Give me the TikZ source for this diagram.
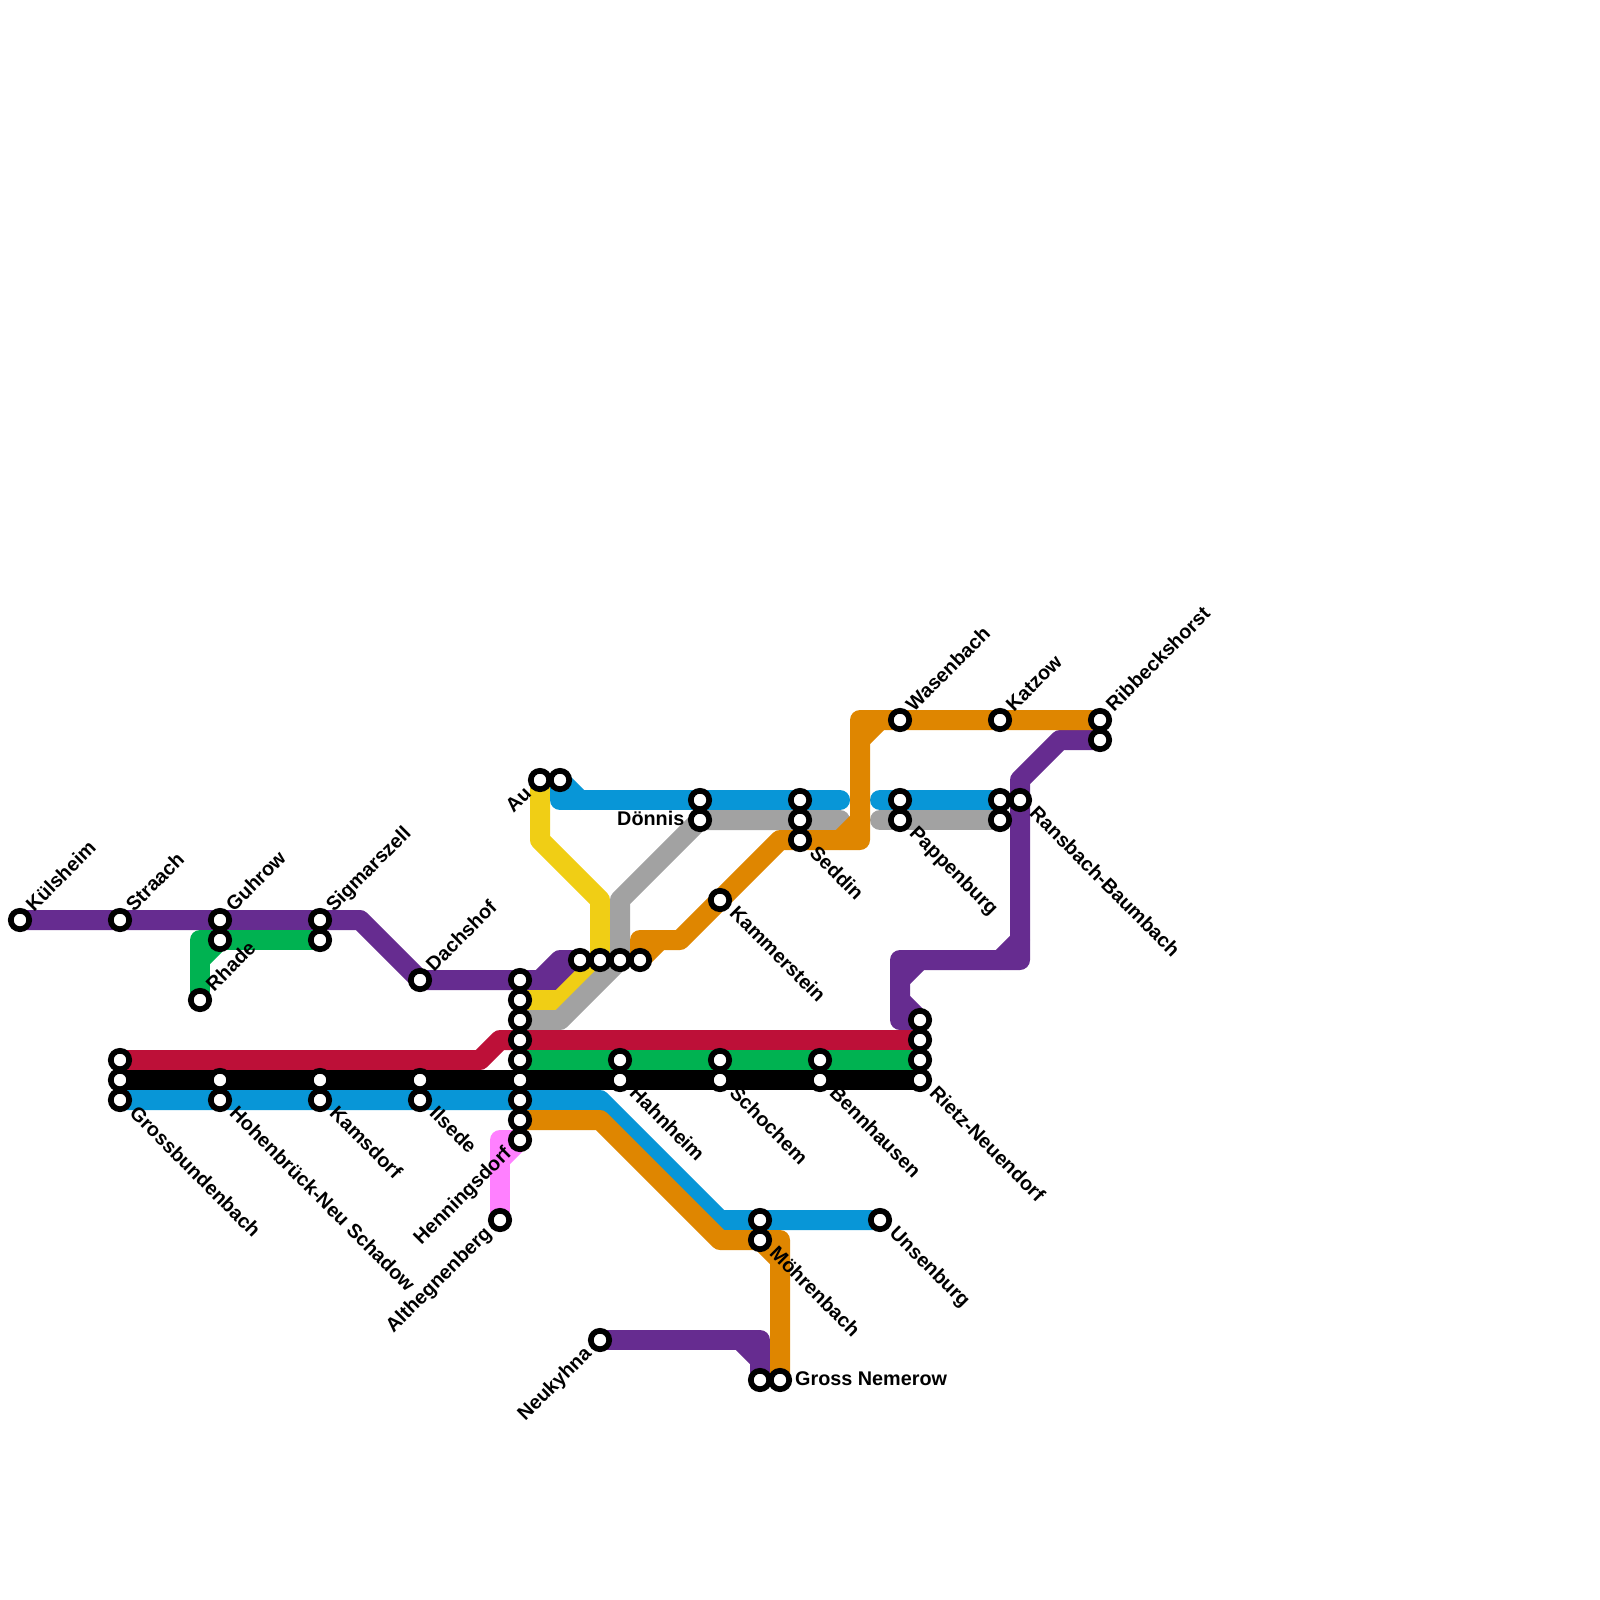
\documentclass[tikz,border=0pt]{standalone}
\usepackage{fontspec}
\setmainfont{Liberation Sans}
\usetikzlibrary{backgrounds}
\definecolor{cPurple}{HTML}{662C90}
\definecolor{cBlue}{HTML}{0896D7}
\definecolor{cOrange}{HTML}{DF8600}
\definecolor{cGrey}{HTML}{A2A2A2}
\definecolor{cYellow}{HTML}{F0CE15}
\definecolor{cRed}{HTML}{BD1038}
\definecolor{cGreen}{HTML}{00B251}
\definecolor{cPink}{HTML}{FF80FF}
\tikzset{
	stn/.style   ={circle, draw=black, fill=white, line width=5.7pt, inner sep=0pt, outer sep=0pt, minimum size=18.4pt},
	route/.style ={line width=20pt, line cap=round, line join=round},
	lblne/.style ={xshift=14pt, yshift=7.5pt, rotate=45, anchor=base west, inner sep=0pt},
	lblse/.style ={xshift=8.5pt, yshift=-14.5pt, rotate=-45, anchor=base west, inner sep=0pt},
	lblsw/.style ={xshift=-7.5pt, yshift=-14.5pt, rotate=45, anchor=base east, inner sep=0pt},
	lble/.style  ={xshift=15pt, yshift=-5pt, anchor=base west, inner sep=0pt},
	lblw/.style  ={xshift=-15.5pt, yshift=-5pt, anchor=base east, inner sep=0pt},
}

\begin{document}
\begin{tikzpicture}[x=20pt, y=-20pt, font=\fontsize{19.8}{24}\selectfont\bfseries]
	\useasboundingbox (0,0) rectangle (80,80);
	% stations, left to right
	\node[stn] (kuelsheim) at (1,46) {};
	\node[stn] (straach) at (6,46) {};
	\node[stn] (guhrow) at (11,46) {};
	\node[stn] (guhrowb) at (11,47) {};
	\node[stn] (sigmarszell) at (16,46) {};
	\node[stn] (sigmarszellb) at (16,47) {};
	\node[stn] (rhade) at (10,50) {};
	\node[stn] (dachshof) at (21,49) {};
	\node[stn] (grossa) at (6,53) {};
	\node[stn] (grossb) at (6,54) {};
	\node[stn] (gross) at (6,55) {};
	\node[stn] (hohena) at (11,54) {};
	\node[stn] (hohen) at (11,55) {};
	\node[stn] (kamsa) at (16,54) {};
	\node[stn] (kams) at (16,55) {};
	\node[stn] (ilsa) at (21,54) {};
	\node[stn] (ilsede) at (21,55) {};
	\node[stn] (althe) at (25,61) {};
	% the long column in the middle
	\node[stn] (mittea) at (26,49) {};
	\node[stn] (mitteb) at (26,50) {};
	\node[stn] (mittec) at (26,51) {};
	\node[stn] (mitted) at (26,52) {};
	\node[stn] (mittee) at (26,53) {};
	\node[stn] (mittef) at (26,54) {};
	\node[stn] (mitteg) at (26,55) {};
	\node[stn] (mitteh) at (26,56) {};
	\node[stn] (henning) at (26,57) {};
	\node[stn] (au) at (27,39) {};
	\node[stn] (aub) at (28,39) {};
	\node[stn] (reihea) at (29,48) {};
	\node[stn] (reiheb) at (30,48) {};
	\node[stn] (reihec) at (31,48) {};
	\node[stn] (reihed) at (32,48) {};
	\node[stn] (neukyhna) at (30,67) {};
	\node[stn] (hahna) at (31,53) {};
	\node[stn] (hahn) at (31,54) {};
	\node[stn] (doennisa) at (35,40) {};
	\node[stn] (doennis) at (35,41) {};
	\node[stn] (kammer) at (36,45) {};
	\node[stn] (schoa) at (36,53) {};
	\node[stn] (scho) at (36,54) {};
	\node[stn] (moehra) at (38,61) {};
	\node[stn] (moehr) at (38,62) {};
	\node[stn] (nemerowa) at (38,69) {};
	\node[stn] (nemerow) at (39,69) {};
	\node[stn] (seddina) at (40,40) {};
	\node[stn] (seddinb) at (40,41) {};
	\node[stn] (seddin) at (40,42) {};
	\node[stn] (benna) at (41,53) {};
	\node[stn] (benn) at (41,54) {};
	\node[stn] (unsen) at (44,61) {};
	\node[stn] (wasen) at (45,36) {};
	\node[stn] (pappa) at (45,40) {};
	\node[stn] (papp) at (45,41) {};
	\node[stn] (rietza) at (46,51) {};
	\node[stn] (rietzb) at (46,52) {};
	\node[stn] (rietzc) at (46,53) {};
	\node[stn] (rietz) at (46,54) {};
	\node[stn] (katzow) at (50,36) {};
	\node[stn] (katzowa) at (50,40) {};
	\node[stn] (katzowb) at (50,41) {};
	\node[stn] (ransbach) at (51,40) {};
	\node[stn] (ribbeck) at (55,36) {};
	\node[stn] (ribbeckb) at (55,37) {};
	% routes go behind the stations
	\begin{scope}[on background layer]
		\draw[route, cPurple] (kuelsheim.center) -- (straach.center) -- (guhrow.center) -- (sigmarszell.center) -- (18,46) -- (dachshof.center) -- (mittea.center) -- (28,49) -- (reihea.center);
		\draw[route, cPurple] (27,49) -- (28,48) -- (reihea.center);
		\draw[route, cPurple] (ribbeckb.center) -- (53,37) -- (51,39) -- (ransbach.center) -- (51,48) -- (45,48) -- (45,51) -- (rietza.center);
		\draw[route, cPurple] (51,47) -- (50,48);
		\draw[route, cPurple] (46,48) -- (45,49);
		\draw[route, cPurple] (45,50) -- (rietza.center);
		\draw[route, cPurple] (neukyhna.center) -- (38,67) -- (nemerowa.center);
		\draw[route, cPurple] (37,67) -- (38,68);
		\draw[route, cGreen] (sigmarszellb.center) -- (guhrowb.center) -- (10,47) -- (rhade.center);
		\draw[route, cGreen] (10,48) -- (guhrowb.center);
		\draw[route, cYellow] (au.center) -- (27,42) -- (30,45) -- (reiheb.center) -- (28,50) -- (mitteb.center);
		\draw[route, cGrey] (mittec.center) -- (28,51) -- (reihec.center) -- (31,45) -- (doennis.center) -- (seddinb.center) -- (42,41);
		\draw[route, cGrey] (44,41) -- (papp.center) -- (katzowb.center);
		\draw[route, cBlue] (aub.center) -- (28,40) -- (doennisa.center) -- (seddina.center) -- (42,40);
		\draw[route, cBlue] (aub.center) -- (29,40);
		\draw[route, cBlue] (44,40) -- (pappa.center) -- (katzowa.center);
		\draw[route, cBlue] (gross.center) -- (hohen.center) -- (kams.center) -- (ilsede.center) -- (mitteg.center) -- (30,55) -- (36,61) -- (moehra.center) -- (unsen.center);
		\draw[route, cOrange] (mitteh.center) -- (30,56) -- (36,62) -- (moehr.center) -- (39,62) -- (nemerow.center);
		\draw[route, cOrange] (moehr.center) -- (39,63);
		\draw[route, cOrange] (reihed.center) -- (32,47) -- (34,47) -- (kammer.center) -- (39,42) -- (seddin.center) -- (43,42) -- (43,36) -- (wasen.center) -- (katzow.center) -- (ribbeck.center);
		\draw[route, cOrange] (reihed.center) -- (33,47);
		\draw[route, cOrange] (42,42) -- (43,41);
		\draw[route, cOrange] (43,37) -- (44,36);
		\draw[route, cRed] (grossa.center) -- (24,53) -- (25,52) -- (mitted.center) -- (rietzb.center);
		\draw[route, cGreen] (mittee.center) -- (hahna.center) -- (schoa.center) -- (benna.center) -- (rietzc.center);
		\draw[route, black] (grossb.center) -- (hohena.center) -- (kamsa.center) -- (ilsa.center) -- (mittef.center) -- (hahn.center) -- (scho.center) -- (benn.center) -- (rietz.center);
		\draw[route, cPink] (henning.center) -- (25,57) -- (althe.center);
		\draw[route, cPink] (25,58) -- (henning.center);
	\end{scope}
	% labels
	\node[lblne] (kuelsheimt) at (kuelsheim) {Külsheim};
	\node[lblne] (straacht) at (straach) {Straach};
	\node[lblne] (guhrowt) at (guhrow) {Guhrow};
	\node[lblne] (sigmarszellt) at (sigmarszell) {Sigmarszell};
	\node[lblne] (rhadet) at (rhade) {Rhade};
	\node[lblne] (dachshoft) at (dachshof) {Dachshof};
	\node[lblne] (wasent) at (wasen) {Wasenbach};
	\node[lblne] (katzowt) at (katzow) {Katzow};
	\node[lblne] (ribbeckt) at (ribbeck) {Ribbeckshorst};
	\node[lblse] (grosst) at (gross) {Grossbundenbach};
	\node[lblse] (hohent) at (hohen) {Hohenbrück-Neu Schadow};
	\node[lblse] (kamst) at (kams) {Kamsdorf};
	\node[lblse] (ilsedet) at (ilsede) {Ilsede};
	\node[lblse] (hahnt) at (hahn) {Hahnheim};
	\node[lblse] (schot) at (scho) {Schochem};
	\node[lblse] (bennt) at (benn) {Bennhausen};
	\node[lblse] (rietzt) at (rietz) {Rietz-Neuendorf};
	\node[lblse] (kammert) at (kammer) {Kammerstein};
	\node[lblse] (seddint) at (seddin) {Seddin};
	\node[lblse] (pappt) at (papp) {Pappenburg};
	\node[lblse] (ransbacht) at (ransbach) {Ransbach-Baumbach};
	\node[lblse] (moehrt) at (moehr) {Möhrenbach};
	\node[lblse] (unsent) at (unsen) {Unsenburg};
	\node[lblsw] (aut) at (au) {Au};
	\node[lblsw] (henningt) at (henning) {Henningsdorf};
	\node[lblsw] (althet) at (althe) {Althegnenberg};
	\node[lblsw] (neukyhnat) at (neukyhna) {Neukyhna};
	\node[lblw] (doennist) at (doennis) {Dönnis};
	\node[lble] (nemerowt) at (nemerow) {Gross Nemerow};
\end{tikzpicture}
\end{document}
